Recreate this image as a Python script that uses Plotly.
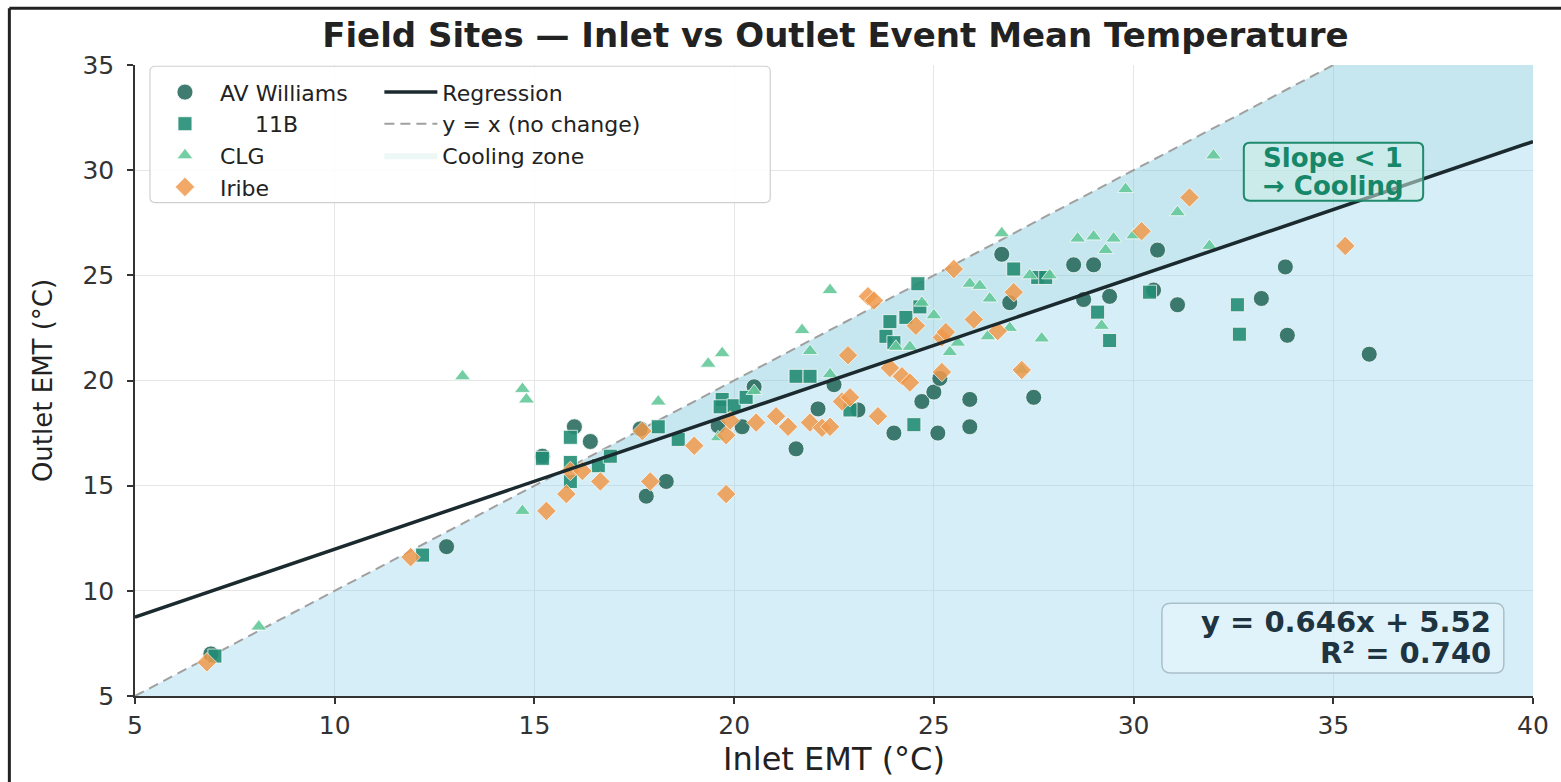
import plotly.graph_objects as go

# ---- data: inlet / outlet event mean temperatures (deg C) per site ----
avw_in = [6.9, 12.8, 15.2, 16.0, 16.4, 17.65, 17.8, 18.3, 19.6, 20.2, 20.5, 21.55, 22.1, 22.5,
          23.1, 24.0, 24.7, 25.0, 25.1, 25.15, 25.9, 25.9, 26.7, 26.9, 27.5, 28.5, 28.75, 29.0,
          29.4, 30.5, 30.6, 31.1, 33.2, 33.8, 33.85, 35.9]
avw_out = [7.0, 12.1, 16.4, 17.8, 17.1, 17.7, 14.5, 15.2, 17.85, 17.8, 19.7, 16.75, 18.65, 19.8,
           18.6, 17.5, 19.0, 19.45, 17.5, 20.1, 19.1, 17.8, 26.0, 23.7, 19.2, 25.5, 23.85, 25.5,
           24.0, 24.3, 26.2, 23.6, 23.9, 25.4, 22.15, 21.25]

b11_in = [7.0, 12.2, 15.2, 15.9, 15.9, 15.9, 16.6, 16.9, 18.1, 18.6, 19.7, 19.65, 20.0, 20.3,
          21.55, 21.9, 22.9, 23.8, 23.9, 24.0, 24.3, 24.5, 24.6, 24.65, 27.0, 27.6, 27.8, 29.1,
          29.4, 30.4, 32.6, 32.65]
b11_out = [6.9, 11.7, 16.3, 17.3, 16.1, 15.2, 15.95, 16.4, 17.8, 17.2, 19.1, 18.75, 18.8, 19.2,
           20.2, 20.2, 18.6, 22.1, 22.8, 21.8, 23.0, 17.9, 24.6, 23.5, 25.3, 24.9, 24.9, 23.25,
           21.9, 24.2, 23.6, 22.2]

clg_in = [8.1, 13.2, 14.7, 14.8, 14.7, 18.1, 19.35, 19.7, 19.6, 20.5, 21.7, 21.9, 22.4, 22.4,
          24.05, 24.4, 24.7, 25.0, 25.4, 25.6, 25.9, 26.15, 26.35, 26.4, 26.7, 26.9, 27.2, 27.4,
          27.7, 27.9, 28.6, 29.0, 29.2, 29.3, 29.5, 29.8, 30.0, 31.1, 31.9, 32.0]
clg_out = [8.3, 20.2, 19.6, 19.1, 13.8, 19.0, 20.8, 21.3, 17.3, 19.5, 22.4, 21.4, 24.3, 20.3,
           21.6, 21.6, 23.7, 23.1, 21.35, 21.8, 24.6, 24.5, 22.1, 23.9, 27.0, 22.5, 20.5, 25.0,
           22.0, 25.0, 26.75, 26.85, 22.6, 26.2, 26.75, 29.1, 26.9, 28.0, 26.4, 30.7]

iribe_in = [6.8, 11.9, 15.3, 15.8, 15.9, 16.2, 16.65, 17.7, 17.9, 19.0, 19.8, 19.8, 19.9, 20.55,
            21.05, 21.35, 21.9, 22.2, 22.4, 22.7, 22.85, 22.9, 23.35, 23.5, 23.6, 23.9, 24.2,
            24.4, 24.55, 25.2, 25.2, 25.3, 25.5, 26.0, 26.6, 27.0, 27.2, 30.2, 31.4, 35.3]
iribe_out = [6.6, 11.6, 13.8, 14.6, 15.7, 15.7, 15.2, 17.6, 15.2, 16.9, 14.6, 17.4, 18.1, 18.0,
             18.3, 17.8, 18.0, 17.75, 17.8, 19.0, 21.2, 19.2, 24.0, 23.8, 18.3, 20.6, 20.2,
             19.9, 22.6, 20.4, 22.05, 22.3, 25.3, 22.9, 22.35, 24.2, 20.5, 27.1, 28.7, 26.4]

# least-squares fit reported on the chart
SLOPE = 0.646
INTERCEPT = 5.52
R2 = 0.740

X_RANGE = [5, 40]
Y_RANGE = [5, 35]
x_ticks = [5, 10, 15, 20, 25, 30, 35, 40]
y_ticks = [5, 10, 15, 20, 25, 30, 35]

FONT = "DejaVu Sans"

def reg(x):
    return SLOPE * x + INTERCEPT

fig = go.Figure()

# below-diagonal region (outlet cooler than inlet)
x0, x1 = X_RANGE
y0, y1 = Y_RANGE
fig.add_trace(go.Scatter(
    x=[x0, y1, x1, x1, x0], y=[y0, y1, y1, y0, y0],
    mode="lines", fill="toself", fillcolor="rgba(135,206,235,0.35)",
    line=dict(width=0), hoverinfo="skip", showlegend=False))

# cooling zone: between the fitted line and the 1:1 line
x_cross = INTERCEPT / (1 - SLOPE)
fig.add_trace(go.Scatter(
    x=[x_cross, y1, x1, x1, x_cross], y=[x_cross, y1, y1, reg(x1), x_cross],
    mode="lines", fill="toself", fillcolor="rgba(0,140,130,0.07)",
    line=dict(width=0), hoverinfo="skip", name="Cooling zone",
    legend="legend2", legendrank=3))

# 1:1 reference line
fig.add_trace(go.Scatter(
    x=[x0, y1], y=[y0, y1], mode="lines",
    line=dict(color="#a0a0a0", width=2, dash="10px,6px"),
    name="y = x (no change)", legend="legend2", legendrank=2))

# site markers
marker_line = dict(color="white", width=0.8)
fig.add_trace(go.Scatter(
    x=avw_in, y=avw_out, mode="markers", name="AV Williams", legend="legend", legendrank=1,
    marker=dict(symbol="circle", size=16, color="#2b6d60", opacity=0.9, line=marker_line)))
fig.add_trace(go.Scatter(
    x=b11_in, y=b11_out, mode="markers", name="\u00a0\u00a0\u00a0\u00a0\u00a011B",
    legend="legend", legendrank=2,
    marker=dict(symbol="square", size=14, color="#248d75", opacity=0.9, line=marker_line)))
fig.add_trace(go.Scatter(
    x=clg_in, y=clg_out, mode="markers", name="CLG", legend="legend", legendrank=3,
    marker=dict(symbol="triangle-up", size=14, color="#66c99b", opacity=0.9, line=marker_line)))
fig.add_trace(go.Scatter(
    x=iribe_in, y=iribe_out, mode="markers", name="Iribe", legend="legend", legendrank=4,
    marker=dict(symbol="diamond", size=15, color="#f09a4c", opacity=0.85, line=marker_line)))

# regression line
fig.add_trace(go.Scatter(
    x=X_RANGE, y=[reg(x0), reg(x1)], mode="lines",
    line=dict(color="#1b2a2e", width=3.5),
    name="Regression", legend="legend2", legendrank=1))


def rounded_box(xa, xb, ya, yb, rx, ry):
    return (f"M {xa+rx},{ya} L {xb-rx},{ya} Q {xb},{ya} {xb},{ya+ry} "
            f"L {xb},{yb-ry} Q {xb},{yb} {xb-rx},{yb} L {xa+rx},{yb} "
            f"Q {xa},{yb} {xa},{yb-ry} L {xa},{ya+ry} Q {xa},{ya} {xa+rx},{ya} Z")


frame_left = (9 - 135) / 1402
frame_top = (698 - 8) / 633
shapes = [
    # legend frame
    dict(type="path", xref="paper", yref="paper",
         path=rounded_box(0.0107, 0.4544, 0.782, 0.998, 0.004, 0.008),
         fillcolor="rgba(255,255,255,0.85)", line=dict(color="#cfcfcf", width=1.2), layer="above"),
    # equation box
    dict(type="path", xref="x", yref="y",
         path=rounded_box(30.71, 39.27, 6.09, 9.41, 0.22, 0.42),
         fillcolor="rgba(228,244,251,0.75)", line=dict(color="#a9c0cc", width=1.5), layer="above"),
    # slope note box
    dict(type="path", xref="x", yref="y",
         path=rounded_box(32.76, 37.25, 28.55, 31.3, 0.15, 0.28),
         fillcolor="rgba(205,238,230,0.55)", line=dict(color="#1f8a6c", width=2), layer="above"),
    # outer frame (top and left edges)
    dict(type="line", xref="paper", yref="paper",
         x0=frame_left, x1=1.2, y0=frame_top, y1=frame_top,
         line=dict(color="#222222", width=3), layer="above"),
    dict(type="line", xref="paper", yref="paper",
         x0=frame_left, x1=frame_left, y0=-0.3, y1=frame_top,
         line=dict(color="#222222", width=3), layer="above"),
]

eq_font = dict(family=FONT, size=29, color="#1e3440", weight="bold")
note_font = dict(family=FONT, size=26, color="#17876a", weight="bold")
annotations = [
    dict(x=39.0, y=8.5, xref="x", yref="y", xanchor="right", yanchor="middle",
         text=f"y = {SLOPE:.3f}x + {INTERCEPT:.2f}", showarrow=False, font=eq_font),
    dict(x=39.0, y=7.05, xref="x", yref="y", xanchor="right", yanchor="middle",
         text=f"R\u00b2 = {R2:.3f}", showarrow=False, font=eq_font),
    dict(x=35.0, y=30.6, xref="x", yref="y", xanchor="center", yanchor="middle",
         text="Slope &lt; 1", showarrow=False, font=note_font),
    dict(x=35.0, y=29.27, xref="x", yref="y", xanchor="center", yanchor="middle",
         text="\u2192 Cooling", showarrow=False, font=note_font),
]

axis_common = dict(
    showgrid=True, gridcolor="#e6e6e6", gridwidth=1, zeroline=False,
    showline=True, linecolor="#333333", linewidth=1.5, mirror=False,
    ticks="outside", ticklen=6, tickwidth=1.5, tickcolor="#333333",
    tickfont=dict(family=FONT, size=25, color="#333333"))

fig.update_layout(
    width=1561, height=782,
    margin=dict(l=135, r=24, t=65, b=84),
    paper_bgcolor="white", plot_bgcolor="white",
    title=dict(text="Field Sites \u2014 Inlet vs Outlet Event Mean Temperature",
               x=0.501, xref="paper", y=1 - 35 / 782, yref="container",
               xanchor="center", yanchor="middle",
               font=dict(family=FONT, size=34, color="#222222", weight="bold")),
    xaxis=dict(range=X_RANGE, tickvals=x_ticks, **axis_common,
               title=dict(text="Inlet EMT (\u00b0C)", standoff=8,
                          font=dict(family=FONT, size=32, color="#222222"))),
    yaxis=dict(range=Y_RANGE, tickvals=y_ticks, **axis_common, ticklabelstandoff=8,
               title=dict(text="Outlet EMT (\u00b0C)", standoff=22,
                          font=dict(family=FONT, size=26, color="#222222"))),
    legend=dict(x=0.0107, y=0.99, xanchor="left", yanchor="top",
                bgcolor="rgba(0,0,0,0)", borderwidth=0, itemwidth=60,
                font=dict(family=FONT, size=22, color="#222222"),
                traceorder="normal"),
    legend2=dict(x=0.1748, y=0.99, xanchor="left", yanchor="top",
                 bgcolor="rgba(0,0,0,0)", borderwidth=0, itemwidth=53,
                 font=dict(family=FONT, size=22, color="#222222"),
                 traceorder="normal"),
    shapes=shapes,
    annotations=annotations,
)

fig.write_html("out.html")
